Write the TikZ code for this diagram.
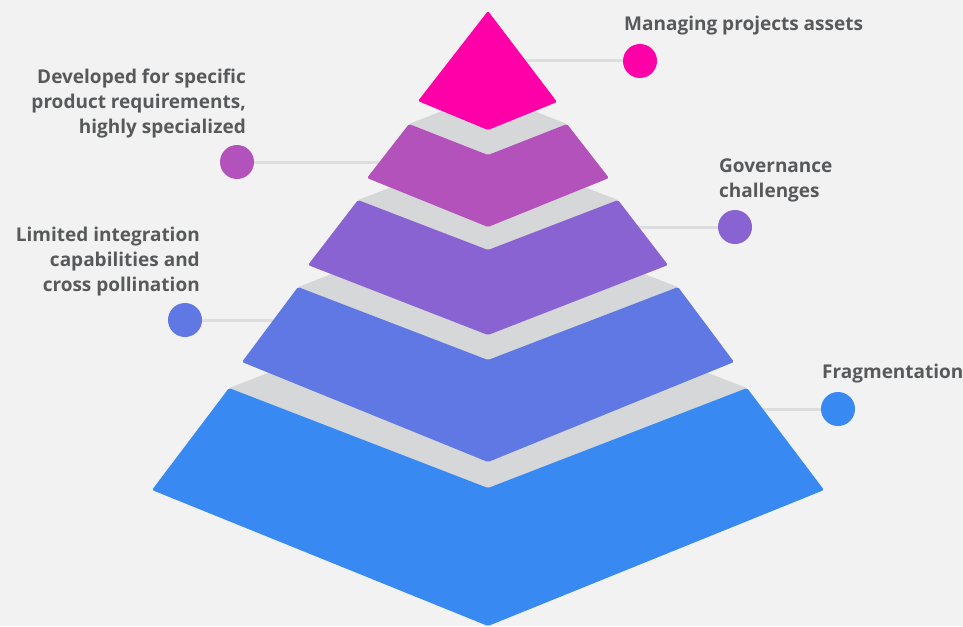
\documentclass[tikz,border=0pt]{standalone}
\usepackage{fontspec}
\setmainfont{Open Sans}
\definecolor{bgcol}{HTML}{F2F2F2}
\definecolor{topcol}{HTML}{D6D7D8}
\definecolor{linecol}{HTML}{DDDDDD}
\definecolor{txtcol}{HTML}{58595B}
\definecolor{lay1}{HTML}{FF00A8}
\definecolor{lay2}{HTML}{B452BC}
\definecolor{lay3}{HTML}{8A63D2}
\definecolor{lay4}{HTML}{5F78E3}
\definecolor{lay5}{HTML}{3889F2}
\tikzset{
  dot/.style={circle,minimum size=34pt,inner sep=0pt},
  conn/.style={draw=linecol,line width=3pt},
  topface/.style={fill=topcol,rounded corners=1.5pt},
  label/.style={text=txtcol,inner sep=0pt,font=\bfseries\fontsize{19}{25}\selectfont}
}
\begin{document}
\begin{tikzpicture}[x=1pt,y=-1pt]
  \fill[bgcol] (0,0) rectangle (963,626);
  \useasboundingbox (0,0) rectangle (963,626);

  % dots and connectors
  \node[dot,fill=lay1] (d1) at (640,61)  {};
  \node[dot,fill=lay2] (d2) at (237,162) {};
  \node[dot,fill=lay3] (d3) at (735,227) {};
  \node[dot,fill=lay4] (d4) at (185,320) {};
  \node[dot,fill=lay5] (d5) at (838,409) {};
  \coordinate (c1) at (488,61);
  \coordinate (c2) at (488,162);
  \coordinate (c3) at (488,227);
  \coordinate (c4) at (488,320);
  \coordinate (c5) at (488,409);
  \foreach \from/\to in {d1/c1,d2/c2,d3/c3,d4/c4,d5/c5}
    \draw[conn] (\from) -- (\to);

  % pyramid slabs, bottom first
  \foreach \col/\wa/\yt/\ym/\wb/\yo/\yb in {lay5/259/388/488/336/490/626,
      lay4/190/287/360/246/362/462, lay3/130/200/250/180/265/335,
      lay2/79/124/155/121/178/227}
  {
    \fill[topface] ({488-\wa},\yt) -- (488,{2*\yt-\ym}) -- ({488+\wa},\yt)
      -- (488,\ym) -- cycle;
    \fill[\col,rounded corners=1.5pt] ({488-\wa},\yt) -- (488,\ym) -- ({488+\wa},\yt)
      -- ({488+\wb},\yo) -- (488,\yb) -- ({488-\wb},\yo) -- cycle;
  }
  \fill[lay1,rounded corners=1.5pt] (488,11) -- (557,102) -- (488,130) -- (418,101) -- cycle;

  % labels
  \node[label,anchor=base west] (t1) at (624,31) {Managing projects assets};
  \node[label,anchor=north east,align=right] (t2) at (246,69)
    {Developed for specific\\product requirements,\\highly specialized};
  \node[label,anchor=north west,align=left] (t3) at (719,159)
    {Governance\\challenges};
  \node[label,anchor=north east,align=right] (t4) at (200,227)
    {Limited integration\\capabilities and\\cross pollination};
  \node[label,anchor=base west] (t5) at (822,378) {Fragmentation};
\end{tikzpicture}
\end{document}
